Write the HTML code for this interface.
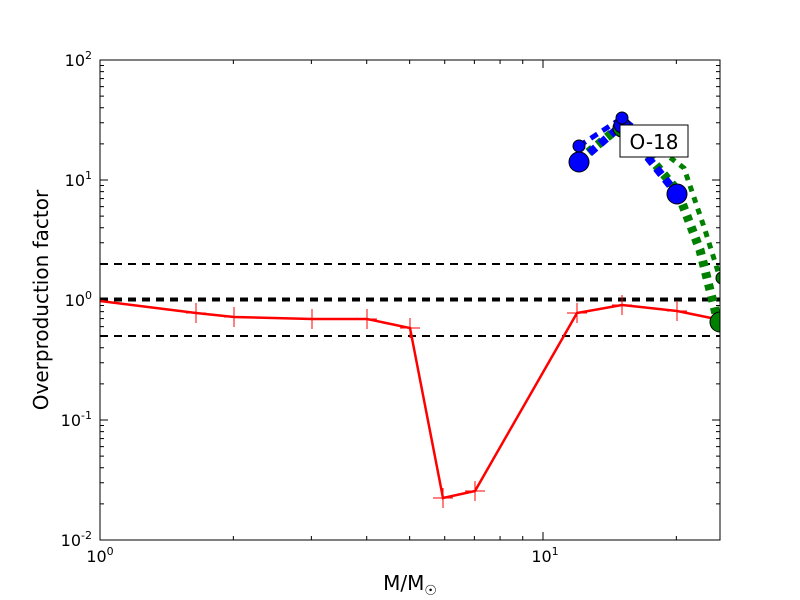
<!DOCTYPE html><html><head><style>body{margin:0;background:#fff}svg{display:block}text{font-family:"DejaVu Sans","Liberation Sans",sans-serif}</style></head><body>
<svg id="s" width="800" height="600" xmlns="http://www.w3.org/2000/svg">
<defs><clipPath id="c"><rect x="100" y="60" width="620" height="480"/></clipPath></defs>
<rect width="800" height="600" fill="#fff"/>
<g id="ticks" stroke="#000" stroke-width="1"></g>
<g clip-path="url(#c)">
<g stroke="#000" stroke-width="2" stroke-dasharray="8,6" fill="none">
<line x1="100" y1="264" x2="720" y2="264"/>
<line x1="100" y1="336" x2="720" y2="336"/>
<line x1="100" y1="299.5" x2="720" y2="299.5" stroke-width="4"/>
</g>
<polyline fill="none" stroke="red" stroke-width="2.5" points="100,301 196,313 234,317 312,319 367,319 410,328 443,498 475,491 577,313 622,305 677,311 716,319"/>
<g stroke="red" stroke-width="1">
<path d="M196,303v20M186,313h20M234,307v20M224,317h20M312,309v20M302,319h20M367,309v20M357,319h20M410,318v20M400,328h20M443,488v20M433,498h20M475,481v20M465,491h20M577,303v20M567,313h20M622,295v20M612,305h20M677,301v20M667,311h20"/>
</g>
<g fill="none" stroke="green" stroke-dasharray="6,6">
<polyline stroke-width="9" points="579,160 622,125 677,190 700,250 718,322"/>
<polyline stroke-width="5" points="622,122 660,150 684,168 705,230 720,278"/>
</g>
<g fill="none" stroke="blue" stroke-dasharray="8,6">
<polyline stroke-width="8" points="579,162 622,125 677,194"/>
<polyline stroke-width="5" points="579,146 622,118 650,140"/>
</g>
<g stroke="#000" stroke-width="1">
<circle cx="720" cy="322" r="10" fill="green"/>
<circle cx="722" cy="278" r="6" fill="green"/>
<circle cx="622" cy="128" r="9" fill="green"/>
<circle cx="579" cy="162" r="10" fill="blue"/>
<circle cx="677" cy="194" r="10" fill="blue"/>
<circle cx="622" cy="125" r="8" fill="blue"/>
<circle cx="579" cy="146" r="6" fill="blue"/>
<circle cx="622" cy="118" r="6" fill="blue"/>
</g>
</g>
<rect x="620" y="125" width="68" height="32" fill="#fff" stroke="#000" stroke-width="1"/>
<text x="654" y="149" font-size="20" text-anchor="middle">O-18</text>
<rect x="100" y="60" width="620" height="480" fill="none" stroke="#000" stroke-width="1"/>
<g font-size="16" text-anchor="end">
<text x="92" y="66">10<tspan dy="-7" font-size="11">2</tspan></text>
<text x="92" y="186">10<tspan dy="-7" font-size="11">1</tspan></text>
<text x="92" y="306">10<tspan dy="-7" font-size="11">0</tspan></text>
<text x="92" y="426">10<tspan dy="-7" font-size="11">-1</tspan></text>
<text x="92" y="546">10<tspan dy="-7" font-size="11">-2</tspan></text>
</g>
<g font-size="16" text-anchor="middle">
<text x="100" y="562">10<tspan dy="-7" font-size="11">0</tspan></text>
<text x="545" y="562">10<tspan dy="-7" font-size="11">1</tspan></text>
<text x="410" y="590" font-size="20">M/M<tspan dy="5" font-size="14">☉</tspan></text>
</g>
<text transform="translate(48,300) rotate(-90)" font-size="20" text-anchor="middle">Overproduction factor</text>
</svg>
<script>
var g=document.getElementById('ticks'),h='';
function L(x1,y1,x2,y2){h+='<line x1="'+x1+'" y1="'+y1+'" x2="'+x2+'" y2="'+y2+'"/>';}
for(var d=0;d<4;d++)for(var k=1;k<10;k++){var y=540-120*(d+Math.log10(k));var l=k==1?8:4;L(100,y,100+l,y);L(720,y,720-l,y);}
L(100,60,108,60);L(720,60,712,60);
for(var d=0;d<2;d++)for(var k=1;k<10;k++){var v=Math.pow(10,d)*k;if(v>25.1)break;var x=100+443*Math.log10(v);var l=k==1?8:4;L(x,540,x,540-l);L(x,60,x,60+l);}
g.innerHTML=h;
</script>
</body></html>
